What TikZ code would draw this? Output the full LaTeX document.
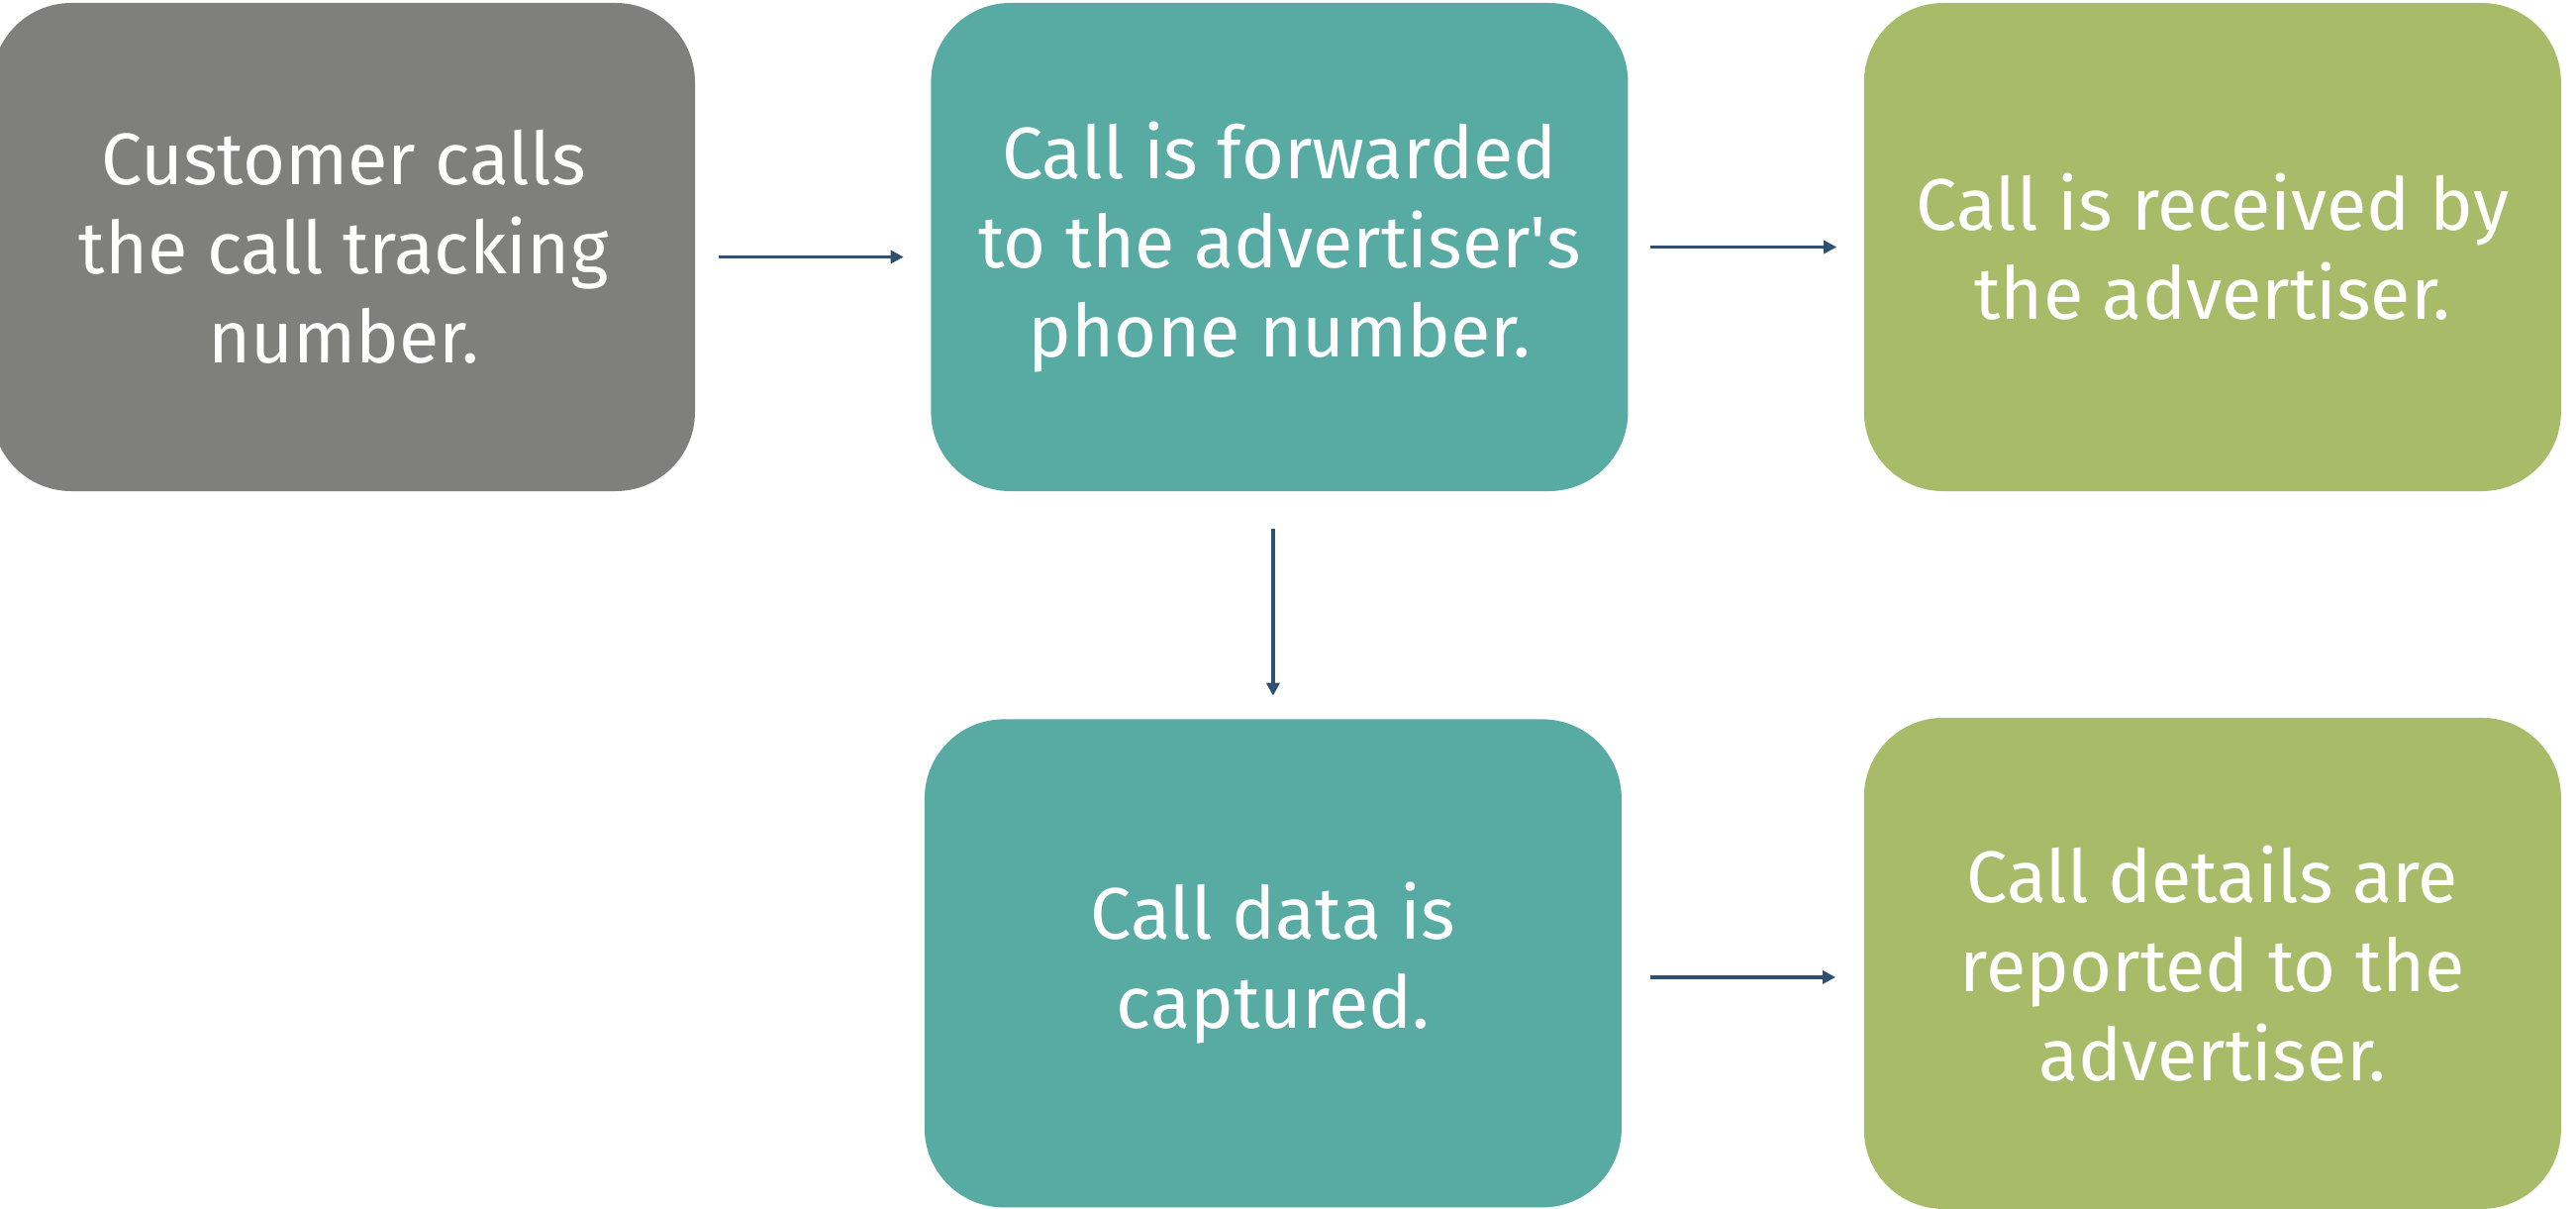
\documentclass[tikz,border=0pt]{standalone}
\usepackage{fontspec}
\setmainfont{Fira Sans}
\usetikzlibrary{arrows.meta,positioning,calc}
\definecolor{stone}{RGB}{127,128,126}
\definecolor{teal}{RGB}{87,171,162}
\definecolor{olive}{RGB}{168,187,104}
\definecolor{ink}{RGB}{47,79,115}
\tikzset{
  base/.style={font=\fontsize{21}{25.6}\selectfont,text=white,align=center,rounded corners=8mm,inner sep=0pt,minimum width=70.4mm,minimum height=49.3mm},
  caller/.style={base,fill=stone},
  relay/.style={base,fill=teal},
  target/.style={base,fill=olive},
  flow/.style={-{Triangle[length=1.3mm,width=1.3mm]},line width=0.9pt,draw=ink}
}
\begin{document}
\begin{tikzpicture}[node distance=22.9mm and 23.7mm]
\useasboundingbox (0,0) rectangle (26.02,12.2);
\node[caller,minimum width=71mm] (dial) at (3.47,9.705) {Customer calls\\the call tracking\\number.};
\node[relay,right=of dial] (forward) {Call is forwarded\\to the advertiser\textquotesingle s\\phone number.};
\node[target,right=of forward] (receive) {Call is received by\\the advertiser.};
\node[relay,below=of forward,xshift=-0.65mm] (capture) {Call data is\\captured.};
\node[target,right=24.35mm of capture,minimum height=49.6mm] (report) {Call details are\\reported to the\\advertiser.};

\draw[flow,shorten <=2.3mm,shorten >=2.7mm] ([yshift=-1mm]dial.east) -- ([yshift=-1mm]forward.west);
\draw[flow,shorten <=2.2mm,shorten >=2.7mm] (forward) -- (receive);
\draw[flow,shorten <=3.7mm,shorten >=2.3mm] (capture.north |- forward.south) -- (capture.north);
\draw[flow,shorten <=2.8mm,shorten >=2.8mm] ([yshift=-1.4mm]capture.east) -- ([yshift=-1.4mm]report.west);
\end{tikzpicture}
\end{document}
